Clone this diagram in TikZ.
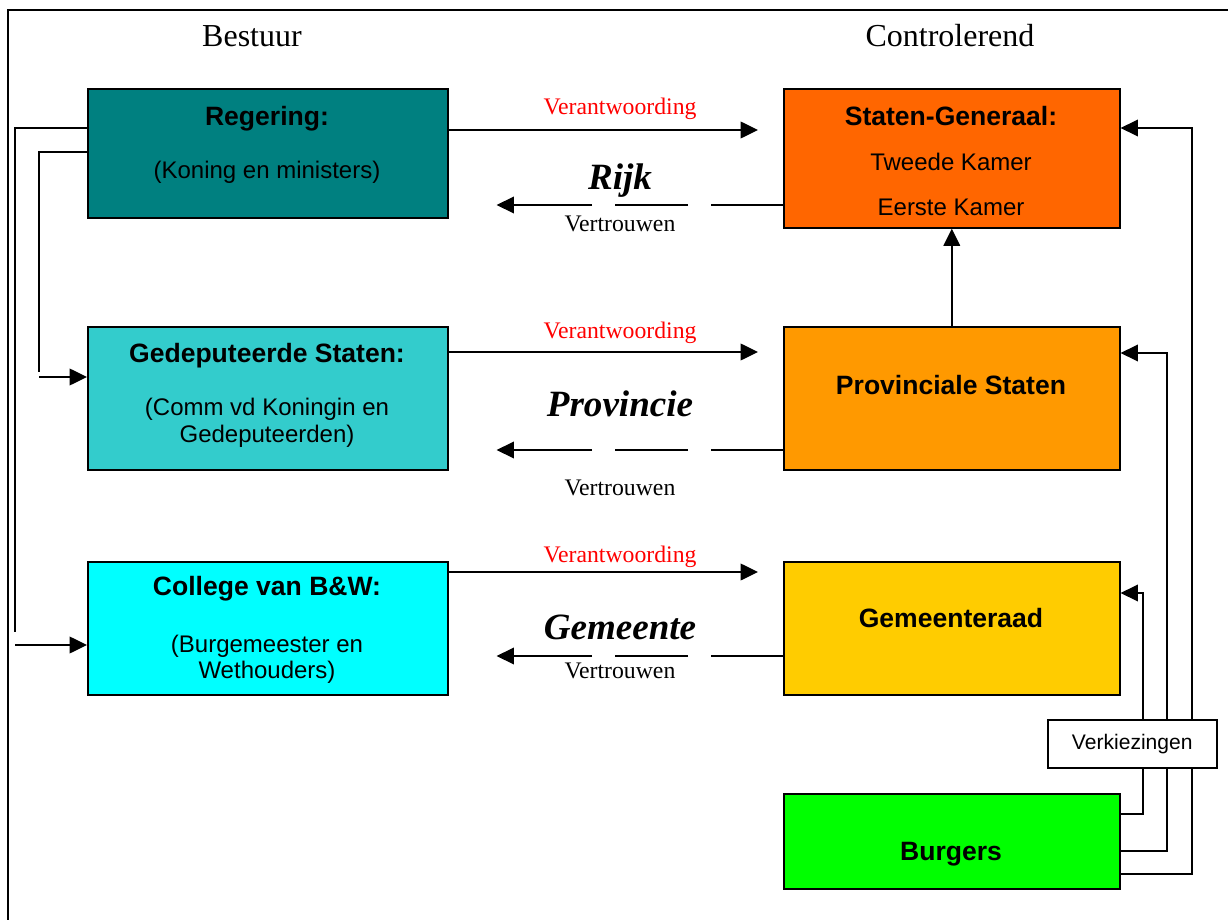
\documentclass[tikz,border=0pt]{standalone}
\usepackage{fontspec}
\setmainfont{Liberation Serif}
\setsansfont{Liberation Sans}
\usetikzlibrary{arrows.meta,calc}
\definecolor{cReg}{HTML}{008080}
\definecolor{cGS}{HTML}{33CCCC}
\definecolor{cCol}{HTML}{00FFFF}
\definecolor{cSG}{HTML}{FF6600}
\definecolor{cPS}{HTML}{FF9900}
\definecolor{cGem}{HTML}{FFCC00}
\definecolor{cBur}{HTML}{00FF00}
\definecolor{cRed}{HTML}{FF0000}
\tikzset{
  box/.style={draw=black, line width=1.2pt, rectangle, inner sep=0pt, anchor=north west},
  wh/.style 2 args={minimum width=#1*0.75pt, minimum height=#2*0.75pt},
  conn/.style={draw=black, line width=1.1pt},
  tip/.style={-{Triangle[length=13pt,width=12.5pt]}},
  frame/.style={draw=black, line width=2.2pt},
  boxhead/.style={font=\sffamily\bfseries\fontsize{19.9}{22}\selectfont},
  boxtext/.style={font=\sffamily\fontsize{18}{21}\selectfont},
  column/.style={font=\fontsize{24}{28}\selectfont},
  duty/.style={font=\fontsize{17.8}{20}\selectfont, text=cRed},
  trust/.style={font=\fontsize{17.8}{20}\selectfont},
  level/.style={font=\bfseries\itshape\fontsize{27.8}{32}\selectfont},
  trustline/.style={conn, tip, dash pattern=on 54pt off 17.25pt on 54.75pt off 17.25pt on 225pt},
}
\begin{document}
\begin{tikzpicture}[x=0.75pt, y=-0.75pt]
\useasboundingbox (0,0) rectangle (1229,920);

% outer frame (top and left edges)
\draw[frame] (8,920) -- (8,10) -- (1228,10);

% column headings
\node[column] (hBestuur) at (252,36) {Bestuur};
\node[column] (hControl) at (950,36) {Controlerend};

% left column: executive bodies
\node[box, fill=cReg, wh={360}{129}] (reg) at (87,88) {};
\node[box, fill=cGS,  wh={360}{143}] (gs)  at (87,326) {};
\node[box, fill=cCol, wh={360}{133}] (col) at (87,561) {};

% right column: controlling bodies
\node[box, fill=cSG,  wh={336}{139}] (sg)  at (783,88) {};
\node[box, fill=cPS,  wh={336}{143}] (ps)  at (783,326) {};
\node[box, fill=cGem, wh={336}{133}] (gem) at (783,561) {};
\node[box, fill=cBur, wh={336}{95}]  (bur) at (783,793) {};

% box texts
\node[boxhead] (tReg1) at (267,119) {Regering:};
\node[boxtext] (tReg2) at (267,172) {(Koning en ministers)};
\node[boxhead] (tGS1) at (267,356) {Gedeputeerde Staten:};
\node[boxtext] (tGS2) at (267,409) {(Comm vd Koningin en};
\node[boxtext] (tGS3) at (267,436) {Gedeputeerden)};
\node[boxhead] (tCol1) at (267,589) {College van B\&W:};
\node[boxtext] (tCol2) at (267,646) {(Burgemeester en};
\node[boxtext] (tCol3) at (267,672) {Wethouders)};

\node[boxhead] (tSG1) at (951,116) {Staten-Generaal:};
\node[boxtext] (tSG2) at (951,162) {Tweede Kamer};
\node[boxtext] (tSG3) at (951,207) {Eerste Kamer};
\node[boxhead] (tPS)  at (951,385) {Provinciale Staten};
\node[boxhead] (tGem) at (951,618) {Gemeenteraad};
\node[boxhead] (tBur) at (951,854) {Burgers};

% accountability arrows (left to right)
\draw[conn, tip] (reg.east |- 0,130) -- ($(sg.west |- 0,130)+(-25,0)$);
\draw[conn, tip] (gs.east |- 0,352)  -- ($(ps.west |- 0,352)+(-25,0)$);
\draw[conn, tip] (col.east |- 0,572) -- ($(gem.west |- 0,572)+(-25,0)$);
\node[duty] (dRijk) at (620,109) {Verantwoording};
\node[duty] (dProv) at (620,333) {Verantwoording};
\node[duty] (dGem)  at (620,557) {Verantwoording};

% confidence arrows (right to left, broken)
\draw[trustline] (sg.west |- 0,205)  -- ($(reg.east |- 0,205)+(48,0)$);
\draw[trustline] (ps.west |- 0,450)  -- ($(gs.east |- 0,450)+(48,0)$);
\draw[trustline] (gem.west |- 0,656) -- ($(col.east |- 0,656)+(48,0)$);
\node[trust] (vRijk) at (620,224) {Vertrouwen};
\node[trust] (vProv) at (620,488) {Vertrouwen};
\node[trust] (vGem)  at (620,671) {Vertrouwen};

% government levels
\node[level] (lRijk) at (620,181) {Rijk};
\node[level] (lProv) at (620,404) {Provincie};
\node[level] (lGem)  at (620,627) {Gemeente};

% appointments from the government
\draw[conn] (reg.west |- 0,128) -- (15,128) -- (15,632);
\draw[conn, tip] (15,645) -- (col.west |- 0,645);
\draw[conn] (reg.west |- 0,152) -- (39,152) -- (39,372);
\draw[conn, tip] (39,377) -- (gs.west |- 0,377);

% provincial to national
\draw[conn, tip] (ps.north) -- (sg.south);

% elections by the citizens
\draw[conn, tip] (bur.east |- 0,814) -| (1143,593) -- (gem.east |- 0,593);
\draw[conn, tip] (bur.east |- 0,851) -| (1167,353) -- (ps.east |- 0,353);
\draw[conn, tip] (bur.east |- 0,874) -| (1192,128) -- (sg.east |- 0,128);
\node[box, fill=white, wh={169}{48}] (verk) at (1047,719) {};
\node[font=\sffamily\fontsize{15.8}{18}\selectfont] (tVerk) at (verk.center) {Verkiezingen};
\end{tikzpicture}
\end{document}
